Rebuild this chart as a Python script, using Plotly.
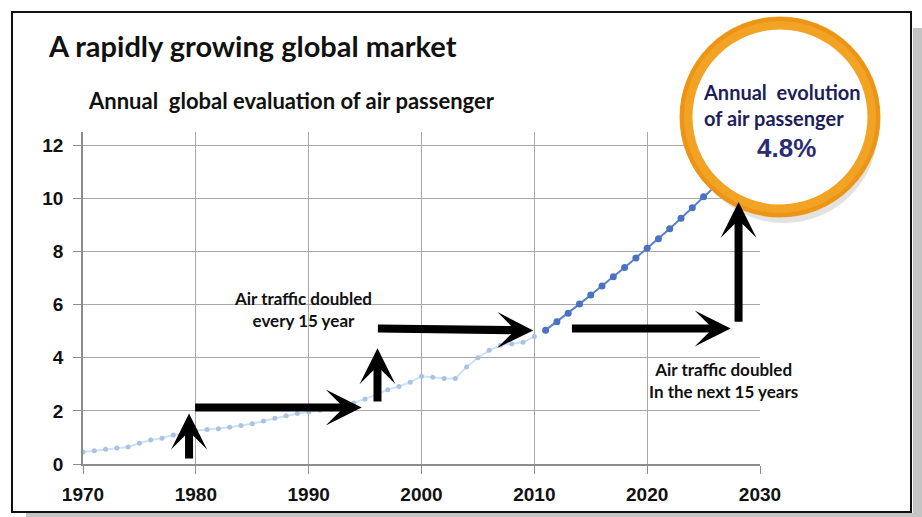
import plotly.graph_objects as go

# ---- data ----
hist_years = list(range(1970, 2011))
hist_values = [0.45, 0.50, 0.56, 0.60, 0.64, 0.78, 0.90, 0.97, 1.09, 1.16,
               1.25, 1.30, 1.33, 1.38, 1.45, 1.52, 1.62, 1.72, 1.82, 1.90,
               1.96, 2.02, 2.06, 2.15, 2.30, 2.45, 2.60, 2.80, 2.92, 3.08,
               3.30, 3.27, 3.22, 3.22, 3.65, 4.00, 4.28, 4.47, 4.52, 4.58,
               4.80]
proj_years = list(range(2011, 2027))
proj_values = [5.04, 5.36, 5.68, 6.02, 6.36, 6.70, 7.05, 7.40, 7.76, 8.12,
               8.48, 8.86, 9.25, 9.65, 10.06, 10.45]
x_ticks = [1970, 1980, 1990, 2000, 2010, 2020, 2030]
y_ticks = [0, 2, 4, 6, 8, 10, 12]

title_text = "A rapidly growing global market"
subtitle_text = "Annual  global evaluation of air passenger"
bubble_lines = ["Annual  evolution", "of air passenger"]
bubble_value = "4.8%"
note_left = "Air traffic doubled<br>every 15 year"
note_right = "Air traffic doubled<br>In the next 15 years"

# ---- layout geometry (pixels) ----
W, H = 922, 517
L, R, T, B = 83, 760, 132, 464


def fx(px):
    return (px - L) / (R - L)


def fy(py):
    return (B - py) / (B - T)


fig = go.Figure()
fig.add_trace(go.Scatter(
    x=hist_years, y=hist_values, mode="lines+markers",
    line=dict(color="#CFE1F4", width=2),
    marker=dict(color="#A9C4E2", size=5),
    showlegend=False, hoverinfo="skip"))
fig.add_trace(go.Scatter(
    x=proj_years, y=proj_values, mode="lines+markers",
    line=dict(color="#5A82CC", width=2),
    marker=dict(color="#4A72C2", size=7),
    showlegend=False, hoverinfo="skip"))

shapes = []
# frame shadow
shapes.append(dict(type="rect", xref="paper", yref="paper",
                   x0=fx(913), x1=fx(922), y0=fy(28), y1=fy(517),
                   fillcolor="#C4C4C4", line=dict(width=0), layer="below"))
shapes.append(dict(type="rect", xref="paper", yref="paper",
                   x0=fx(26), x1=fx(922), y0=fy(513), y1=fy(517),
                   fillcolor="#C4C4C4", line=dict(width=0), layer="below"))
# frame
shapes.append(dict(type="rect", xref="paper", yref="paper",
                   x0=fx(12), x1=fx(911), y0=fy(12), y1=fy(512),
                   fillcolor="rgba(0,0,0,0)", line=dict(color="#111111", width=2),
                   layer="below"))
# bubble shadow
cx, cy, r = 780, 117, 94
shapes.append(dict(type="circle", xref="paper", yref="paper",
                   x0=fx(cx - r + 4), x1=fx(cx + r + 4), y0=fy(cy - r + 12), y1=fy(cy + r + 12),
                   fillcolor="rgba(190,190,190,0.45)", line=dict(width=0), layer="above"))
# bubble ring
shapes.append(dict(type="circle", xref="paper", yref="paper",
                   x0=fx(cx - r), x1=fx(cx + r), y0=fy(cy - r), y1=fy(cy + r),
                   fillcolor="white", line=dict(color="#F2A324", width=13), layer="above"))
shapes.append(dict(type="circle", xref="paper", yref="paper",
                   x0=fx(cx - r - 4), x1=fx(cx + r + 4), y0=fy(cy - r - 4), y1=fy(cy + r + 4),
                   fillcolor="rgba(0,0,0,0)", line=dict(color="#EC9418", width=4), layer="above"))

annotations = []
annotations.append(dict(text=title_text, xref="paper", yref="paper",
                        x=fx(46), y=fy(45), xanchor="left", yanchor="middle",
                        showarrow=False,
                        font=dict(family="Lato", size=29, color="#111111", weight="bold")))
annotations.append(dict(text=subtitle_text, xref="paper", yref="paper",
                        x=fx(86), y=fy(101), xanchor="left", yanchor="middle",
                        showarrow=False,
                        font=dict(family="Lato", size=22, color="#111111", weight="bold")))
annotations.append(dict(text=bubble_lines[0] + "<br>" + bubble_lines[1], xref="paper", yref="paper",
                        x=fx(701), y=fy(105), xanchor="left", yanchor="middle", align="left",
                        showarrow=False,
                        font=dict(family="Lato", size=20, color="#1E1E5A", weight="bold")))
annotations.append(dict(text=bubble_value, xref="paper", yref="paper",
                        x=fx(787), y=fy(148), xanchor="center", yanchor="middle",
                        showarrow=False,
                        font=dict(family="Liberation Sans", size=26, color="#2C2C74", weight="bold")))
annotations.append(dict(text=note_left, x=1989.5, y=5.83, xref="x", yref="y",
                        showarrow=False, align="center",
                        font=dict(family="Lato", size=17, color="#111111", weight="bold")))
annotations.append(dict(text=note_right, x=2026.8, y=3.16, xref="x", yref="y",
                        showarrow=False, align="center",
                        font=dict(family="Lato", size=17, color="#111111", weight="bold")))

# arrows: (tail_x, tail_y, head_x, head_y)
arrows = [
    (1979.4, 0.15, 1979.4, 1.90),
    (1979.8, 2.13, 1994.7, 2.13),
    (1996.1, 2.30, 1996.1, 4.36),
    (1996.0, 5.10, 2009.9, 5.03),
    (2013.2, 5.10, 2027.4, 5.10),
    (2028.1, 5.30, 2028.1, 9.86),
]
for tx, ty, hx, hy in arrows:
    annotations.append(dict(x=hx, y=hy, ax=tx, ay=ty, xref="x", yref="y",
                            axref="x", ayref="y", text="", showarrow=True,
                            arrowhead=3, arrowsize=0.75, arrowwidth=8,
                            arrowcolor="#000000"))

fig.update_layout(
    width=W, height=H,
    margin=dict(l=L, r=W - R, t=T, b=H - B),
    paper_bgcolor="white", plot_bgcolor="white",
    shapes=shapes, annotations=annotations,
    xaxis=dict(range=[1970, 2030], tickvals=x_ticks, showgrid=True,
               gridcolor="#A8A8A8", gridwidth=1, showline=True, linecolor="#8C8C8C",
               linewidth=1.5, ticks="outside", ticklen=8, tickcolor="#8C8C8C",
               zeroline=False, ticklabelstandoff=4,
               tickfont=dict(family="Liberation Sans", size=19, color="#111111", weight="bold")),
    yaxis=dict(range=[0, 12.5], tickvals=y_ticks, showgrid=True,
               gridcolor="#A8A8A8", gridwidth=1, showline=True, linecolor="#8C8C8C",
               linewidth=1.5, ticks="outside", ticklen=8, tickcolor="#8C8C8C",
               zeroline=False, ticklabelstandoff=6,
               tickfont=dict(family="Liberation Sans", size=19, color="#111111", weight="bold")),
)

fig.write_html("out.html")
